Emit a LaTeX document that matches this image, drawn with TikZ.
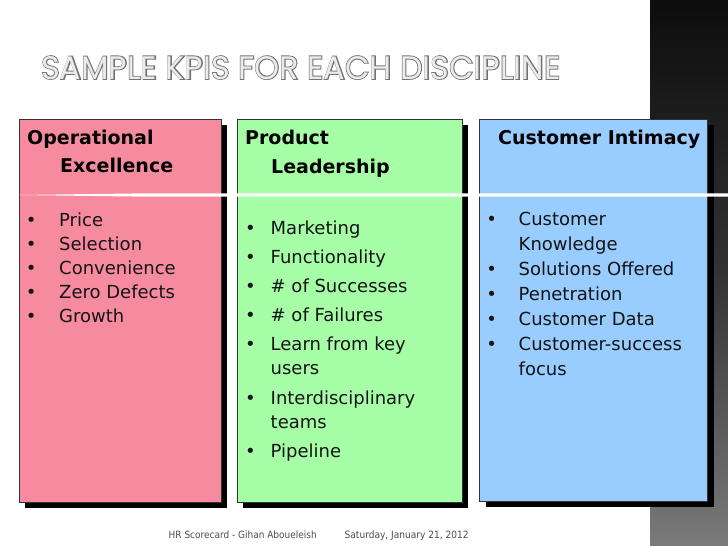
\documentclass[tikz,border=0pt]{standalone}
\usepackage{fontspec}
\setmainfont{DejaVu Sans}
\newfontfamily\condfont{DejaVu Sans Condensed}
\newfontfamily\titlefont{Poppins}
\newfontfamily\titleoutfont{Poppins}[FakeBold=5]
\definecolor{pinkc}{RGB}{246,139,160}
\definecolor{greenc}{RGB}{166,254,166}
\definecolor{bluec}{RGB}{153,204,255}
\definecolor{txt}{RGB}{20,20,20}
\tikzset{
  panel/.style={draw=black!80, line width=0.8pt, anchor=north west, inner sep=0pt},
  shadowbox/.style={fill=black, draw=none, anchor=north west, inner sep=0pt},
  head/.style={anchor=base west, inner sep=0pt, text=black, font=\bfseries\fontsize{19}{23}\selectfont},
  item/.style={anchor=base west, inner sep=0pt, text=txt, font=\fontsize{18}{22}\selectfont},
  bul/.style={anchor=base, inner sep=0pt, text=txt, font=\fontsize{18}{22}\selectfont},
}
\newcommand{\ttltext}{SAMPLE KPIS FOR EACH DISCIPLINE}
\begin{document}
\begin{tikzpicture}[x=1pt,y=-1pt]
\useasboundingbox (0,0) rectangle (728,546);
\fill[white] (0,0) rectangle (728,546);
% right dark bar
\shade[top color=black!95, bottom color=black!52, middle color=black!80] (650,0) rectangle (728,546);
% title: outline layer then light fill layer
\node[anchor=base west, inner sep=0pt] (titleout) at (41,79)
  {\resizebox{519pt}{23pt}{\textcolor{black!55}{\titleoutfont\ttltext}}};
\node[anchor=base west, inner sep=0pt] (title) at (titleout.base west)
  {\resizebox{519pt}{23pt}{\textcolor{black!8}{\titlefont\ttltext}}};
% shadows
\node[shadowbox, minimum width=202pt, minimum height=383pt] (s1) at (24.5,125) {};
\node[shadowbox, minimum width=225pt, minimum height=383pt] (s2) at (243,125) {};
\node[shadowbox, minimum width=228pt, minimum height=382pt] (s3) at (486,125) {};
% panels
\node[panel, fill=pinkc, minimum width=202pt, minimum height=383pt] (p1) at (18.5,119) {};
\node[panel, fill=greenc, minimum width=225pt, minimum height=383pt] (p2) at (237,119) {};
\node[panel, fill=bluec, minimum width=228pt, minimum height=382pt] (p3) at (479,119) {};
% separator
\fill[white] (18,195) -- (140,193.4) -- (728,193.4) -- (728,196.6) -- (140,196.6) -- cycle;
% headers
\node[head] (h1a) at (27,144) {Operational};
\node[head] (h1b) at (60,172) {Excellence};
\node[head] (h2a) at (245,144) {Product};
\node[head] (h2b) at (271,173) {Leadership};
\node[head] (h3a) at (498,144) {Customer Intimacy};
% pink items
\foreach \yy/\t [count=\i] in {226/Price, 250.2/Selection, 274.4/Convenience, 298.6/Zero Defects, 322.8/Growth}{
  \node[bul] (pb\i) at (31.3,\yy) {•};
  \node[item] (pt\i) at (59,\yy) {\t};
}
% green items
\foreach \yy/\t [count=\i] in {234/Marketing, 263/Functionality, 292/\# of Successes, 321/\# of Failures, 350/Learn from key, 404/Interdisciplinary, 457/Pipeline}{
  \node[bul] (gb\i) at (250.5,\yy) {•};
  \node[item] (gt\i) at (270.5,\yy) {\t};
}
\node[item] (gt5b) at (270.5,374) {users};
\node[item] (gt6b) at (270.5,428) {teams};
% blue items
\foreach \yy/\t [count=\i] in {225.5/Customer, 275.5/Solutions Offered, 300.5/Penetration, 325.5/Customer Data, 350.5/Customer-success}{
  \node[bul] (bb\i) at (491.7,\yy) {•};
  \node[item] (bt\i) at (518.5,\yy) {\t};
}
\node[item] (bt1b) at (518.5,250.5) {Knowledge};
\node[item] (bt5b) at (518.5,375.5) {focus};
% footer
\node[anchor=base west, inner sep=0pt, text=black!70] (f1) at (168.5,538)
  {\resizebox{148pt}{!}{\condfont HR Scorecard - Gihan Aboueleish}};
\node[anchor=base west, inner sep=0pt, text=black!70] (f2) at (344.5,538)
  {\resizebox{124pt}{!}{\condfont Saturday, January 21, 2012}};
\end{tikzpicture}
\end{document}
